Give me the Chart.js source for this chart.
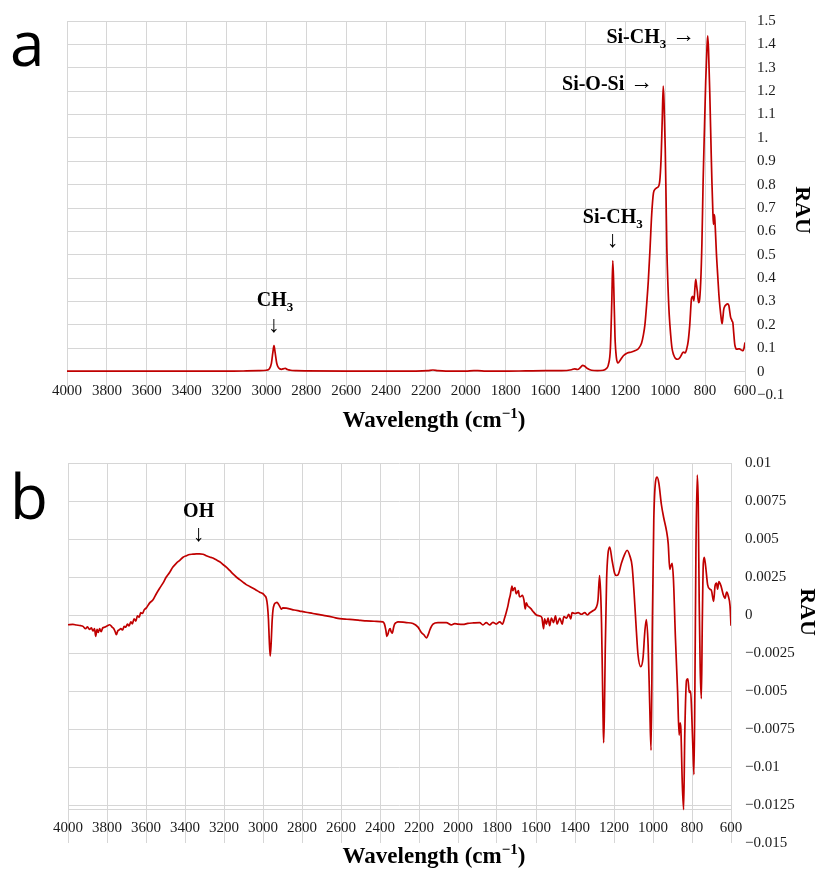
<!DOCTYPE html>
<html>
<head>
<meta charset="utf-8">
<script src="https://cdn.jsdelivr.net/npm/chart.js@4.4.0/dist/chart.umd.min.js"></script>
<style>
  html, body { margin: 0; padding: 0; background: #ffffff; }
  #wrap { position: relative; width: 818px; height: 873px; overflow: hidden; background: #ffffff; }
  #wrap canvas { position: absolute; left: 0; }
  #chartA { top: 0; }
  #chartB { top: 440px; }
</style>
</head>
<body>
<div id="wrap">
  <canvas id="chartA" width="818" height="440"></canvas>
  <canvas id="chartB" width="818" height="433"></canvas>
</div>
<script>
// ---------- Spectrum a: absorbance (RAU) against wavenumber ----------
const aWavenumber = [
  4000, 3900, 3800, 3600, 3400, 3200, 3100, 3040, 3000, 2985, 2975, 2968, 2962, 2956, 2948, 2938,
  2925, 2912, 2905, 2895, 2880, 2850, 2800, 2600, 2400, 2250, 2190, 2165, 2140, 2100, 2000, 1960,
  1940, 1900, 1800, 1700, 1600, 1520, 1470, 1455, 1440, 1425, 1415, 1405, 1390, 1370, 1340, 1310,
  1295, 1285, 1275, 1268, 1263, 1258, 1252, 1245, 1237, 1225, 1210, 1190, 1169, 1150, 1136, 1119,
  1110, 1102, 1093, 1085, 1076, 1068, 1059, 1050, 1042, 1032, 1026, 1020, 1015, 1010, 1006, 1000,
  996, 992, 986, 980, 973, 966, 958, 949, 936, 926, 919, 912, 907, 900, 893, 885,
  877, 868, 862, 856, 851, 847, 843, 839, 833, 829, 822, 816, 810, 803, 797, 791,
  787, 783, 776, 770, 766, 761, 758, 755, 752, 749, 743, 737, 731, 725, 719, 715,
  711, 707, 701, 695, 688, 681, 677, 672, 667, 664, 661, 657, 651, 645, 641, 634,
  627, 621, 615, 610, 605, 600
];
const aRau = [
  0.002, 0.002, 0.002, 0.002, 0.002, 0.002, 0.003, 0.004, 0.006, 0.012, 0.035, 0.080, 0.111, 0.080, 0.035, 0.015,
  0.010, 0.013, 0.014, 0.009, 0.006, 0.004, 0.003, 0.002, 0.002, 0.002, 0.004, 0.007, 0.004, 0.002, 0.002, 0.004,
  0.004, 0.002, 0.002, 0.003, 0.004, 0.004, 0.008, 0.012, 0.009, 0.018, 0.027, 0.024, 0.013, 0.006, 0.004, 0.006,
  0.013, 0.030, 0.100, 0.300, 0.474, 0.360, 0.150, 0.060, 0.037, 0.050, 0.068, 0.080, 0.084, 0.090, 0.097, 0.121,
  0.155, 0.200, 0.290, 0.386, 0.530, 0.671, 0.765, 0.781, 0.787, 0.795, 0.830, 0.930, 1.080, 1.222, 1.150, 0.957,
  0.750, 0.529, 0.360, 0.243, 0.160, 0.100, 0.072, 0.057, 0.053, 0.060, 0.071, 0.082, 0.083, 0.080, 0.095, 0.129,
  0.200, 0.314, 0.322, 0.303, 0.360, 0.395, 0.370, 0.343, 0.295, 0.300, 0.386, 0.550, 0.814, 1.050, 1.243, 1.380,
  1.436, 1.380, 1.171, 0.950, 0.814, 0.680, 0.630, 0.672, 0.660, 0.614, 0.500, 0.414, 0.330, 0.271, 0.225, 0.205,
  0.230, 0.264, 0.280, 0.286, 0.290, 0.283, 0.260, 0.232, 0.222, 0.215, 0.210, 0.170, 0.114, 0.098, 0.096, 0.097,
  0.097, 0.094, 0.091, 0.090, 0.100, 0.125
];

// ---------- Spectrum b: difference spectrum (RAU) against wavenumber ----------
const bWavenumber = [
  4000, 3975, 3957, 3935, 3923, 3910, 3900, 3890, 3880, 3872, 3864, 3858, 3851, 3845, 3838, 3830,
  3822, 3812, 3800, 3786, 3774, 3765, 3758, 3752, 3745, 3737, 3729, 3720, 3712, 3704, 3695, 3687,
  3678, 3670, 3661, 3652, 3644, 3635, 3627, 3618, 3610, 3598, 3581, 3564, 3547, 3530, 3513, 3496,
  3479, 3462, 3445, 3427, 3410, 3393, 3376, 3359, 3342, 3325, 3308, 3291, 3274, 3257, 3240, 3222,
  3205, 3188, 3171, 3154, 3137, 3120, 3103, 3086, 3068, 3051, 3034, 3017, 3000, 2992, 2983, 2977,
  2972, 2968, 2963, 2958, 2954, 2949, 2942, 2935, 2928, 2920, 2912, 2906, 2898, 2880, 2863, 2840,
  2812, 2780, 2744, 2710, 2675, 2640, 2607, 2570, 2539, 2500, 2470, 2430, 2400, 2385, 2377, 2370,
  2365, 2359, 2354, 2348, 2343, 2337, 2330, 2325, 2317, 2308, 2282, 2265, 2231, 2205, 2188, 2175,
  2162, 2150, 2145, 2128, 2103, 2080, 2060, 2034, 2017, 2000, 1974, 1950, 1920, 1889, 1872, 1855,
  1838, 1821, 1804, 1786, 1772, 1761, 1752, 1744, 1738, 1732, 1723, 1719, 1715, 1708, 1702, 1698,
  1690, 1685, 1680, 1670, 1662, 1655, 1650, 1642, 1633, 1625, 1616, 1598, 1581, 1570, 1561, 1556,
  1547, 1538, 1530, 1521, 1510, 1500, 1492, 1478, 1466, 1457, 1443, 1432, 1422, 1415, 1400, 1384,
  1367, 1350, 1337, 1325, 1308, 1291, 1282, 1274, 1268, 1264, 1260, 1256, 1253, 1249, 1245, 1238,
  1231, 1222, 1210, 1197, 1188, 1179, 1162, 1145, 1133, 1119, 1107, 1097, 1085, 1077, 1063, 1051,
  1042, 1034, 1025, 1017, 1010, 1003, 996, 987, 979, 970, 957, 945, 931, 922, 914, 909,
  902, 895, 885, 874, 866, 861, 857, 850, 843, 837, 828, 821, 814, 807, 802, 795,
  790, 785, 780, 773, 768, 763, 758, 752, 747, 742, 737, 730, 720, 708, 700, 689,
  682, 674, 669, 662, 651, 640, 631, 622, 614, 605, 600
];
const bRau = [
  -0.00064, -0.00062, -0.00066, -0.00070, -0.00075, -0.00090, -0.00078, -0.00095, -0.00085, -0.00105, -0.00090, -0.00140, -0.00095, -0.00115, -0.00090, -0.00110,
  -0.00085, -0.00080, -0.00072, -0.00064, -0.00080, -0.00090, -0.00110, -0.00130, -0.00105, -0.00098, -0.00090, -0.00098, -0.00075, -0.00080, -0.00060, -0.00072,
  -0.00045, -0.00058, -0.00025, -0.00040, -0.00005, -0.00015, 0.00015, 0.00010, 0.00032, 0.00047, 0.00080, 0.00100, 0.00140, 0.00176, 0.00210, 0.00250,
  0.00280, 0.00315, 0.00340, 0.00360, 0.00380, 0.00390, 0.00398, 0.00400, 0.00402, 0.00402, 0.00400, 0.00390, 0.00382, 0.00375, 0.00363, 0.00350,
  0.00332, 0.00315, 0.00293, 0.00270, 0.00250, 0.00233, 0.00216, 0.00200, 0.00188, 0.00176, 0.00163, 0.00150, 0.00140, 0.00128, 0.00110, 0.00060,
  -0.00030, -0.00160, -0.00270, -0.00180, -0.00060, 0.00030, 0.00070, 0.00080, 0.00083, 0.00070, 0.00052, 0.00038, 0.00047, 0.00045, 0.00040, 0.00033,
  0.00026, 0.00018, 0.00010, 0.00002, -0.00006, -0.00015, -0.00024, -0.00028, -0.00030, -0.00035, -0.00039, -0.00041, -0.00043, -0.00045, -0.00060, -0.00100,
  -0.00140, -0.00125, -0.00100, -0.00090, -0.00110, -0.00120, -0.00080, -0.00060, -0.00050, -0.00045, -0.00047, -0.00050, -0.00056, -0.00080, -0.00115, -0.00130,
  -0.00150, -0.00120, -0.00100, -0.00060, -0.00050, -0.00050, -0.00050, -0.00065, -0.00057, -0.00060, -0.00062, -0.00055, -0.00052, -0.00050, -0.00065, -0.00050,
  -0.00065, -0.00048, -0.00060, -0.00045, -0.00060, -0.00020, 0.00020, 0.00060, 0.00100, 0.00130, 0.00190, 0.00160, 0.00170, 0.00180, 0.00140, 0.00145,
  0.00160, 0.00120, 0.00120, 0.00130, 0.00100, 0.00040, 0.00080, 0.00060, 0.00050, 0.00040, 0.00025, 0.00000, -0.00006, -0.00017, -0.00090, -0.00025,
  -0.00060, -0.00020, -0.00070, -0.00020, -0.00050, -0.00005, -0.00060, -0.00020, -0.00060, -0.00010, -0.00020, 0.00005, -0.00025, 0.00015, 0.00010, 0.00015,
  0.00005, 0.00015, 0.00000, 0.00013, 0.00028, 0.00050, 0.00100, 0.00260, 0.00130, -0.00050, -0.00350, -0.00680, -0.00840, -0.00620, -0.00240, 0.00230,
  0.00400, 0.00447, 0.00360, 0.00275, 0.00260, 0.00265, 0.00340, 0.00400, 0.00426, 0.00390, 0.00320, 0.00146, -0.00110, -0.00260, -0.00340, -0.00280,
  -0.00110, -0.00030, -0.00200, -0.00580, -0.00890, -0.00030, 0.00620, 0.00877, 0.00907, 0.00867, 0.00727, 0.00640, 0.00555, 0.00470, 0.00300, 0.00320,
  0.00340, 0.00230, -0.00150, -0.00500, -0.00790, -0.00710, -0.00750, -0.01100, -0.01280, -0.00780, -0.00430, -0.00420, -0.00510, -0.00500, -0.00630, -0.00890,
  -0.01050, -0.00460, 0.00400, 0.00920, 0.00730, 0.00080, -0.00350, -0.00550, -0.00030, 0.00340, 0.00380, 0.00320, 0.00200, 0.00170, 0.00160, 0.00090,
  0.00190, 0.00210, 0.00170, 0.00220, 0.00190, 0.00135, 0.00110, 0.00150, 0.00125, 0.00060, -0.00070
];

// ---------- Axis tick settings ----------
const xTickMin = 600, xTickMax = 4000, xTickStep = 200;
const aTickMin = -0.1, aTickMax = 1.5, aTickStep = 0.1;
const bTickMin = -0.015, bTickMax = 0.01, bTickStep = 0.0025;
const bAxisCross = -0.0128;

const SERIF = '"Liberation Serif", "Times New Roman", serif';
const GRID = '#d6d6d6';
const INK = '#1b1b1b';
const LINE = '#c00000';

function toPoints(xs, ys) { return xs.map((x, i) => ({ x: x, y: ys[i] })); }

function minusSign(s) { return s.replace('-', '\u2212'); }

// Draws a sequence of text runs (different fonts / vertical offsets) on one line.
function drawRuns(ctx, runs, x, y, align) {
  let total = 0;
  runs.forEach(r => { ctx.font = r[1]; total += ctx.measureText(r[0]).width; });
  let cx = align === 'center' ? x - total / 2 : (align === 'right' ? x - total : x);
  ctx.textAlign = 'left';
  ctx.textBaseline = 'alphabetic';
  runs.forEach(r => {
    ctx.font = r[1];
    ctx.fillText(r[0], cx, y + (r[2] || 0));
    cx += ctx.measureText(r[0]).width;
  });
}

const B20 = 'bold 20px ' + SERIF;
const B13 = 'bold 13px ' + SERIF;
const ARROW = '23px ' + SERIF;
const TITLE = 'bold 23px ' + SERIF;
const TITLE_SUP = 'bold 15px ' + SERIF;

function axisTitles(ctx, titleY, rauX, rauY) {
  ctx.fillStyle = '#000';
  drawRuns(ctx, [['Wavelength (cm', TITLE], ['\u22121', TITLE_SUP, -9], [')', TITLE]], 434, titleY, 'center');
  ctx.save();
  ctx.translate(rauX, rauY);
  ctx.rotate(Math.PI / 2);
  ctx.font = 'bold 22px ' + SERIF;
  ctx.textAlign = 'center';
  ctx.textBaseline = 'middle';
  ctx.fillText('RAU', 0, 0);
  ctx.restore();
}

const decorA = {
  id: 'decorA',
  afterDraw(chart) {
    const ctx = chart.ctx;
    const xs = chart.scales.x;
    ctx.save();
    ctx.fillStyle = '#000';
    ctx.font = '62px "Open Sans", "Noto Sans", sans-serif';
    ctx.textAlign = 'left';
    ctx.textBaseline = 'alphabetic';
    ctx.fillText('a', 10, 66);

    // band labels
    const xCH3 = xs.getPixelForValue(2962);
    drawRuns(ctx, [['CH', B20], ['3', B13, 5]], xCH3 + 1, 306, 'center');
    ctx.font = ARROW; ctx.textAlign = 'center';
    ctx.fillText('\u2193', xCH3, 332);

    const xSiCH3 = xs.getPixelForValue(1263);
    drawRuns(ctx, [['Si-CH', B20], ['3', B13, 5]], xSiCH3, 223, 'center');
    ctx.font = ARROW; ctx.textAlign = 'center';
    ctx.fillText('\u2193', xSiCH3, 247);

    drawRuns(ctx, [['Si-O-Si', B20], [' \u2192', ARROW, -1]], 653, 90, 'right');
    drawRuns(ctx, [['Si-CH', B20], ['3', B13, 5], [' \u2192', ARROW, -1]], 695, 43, 'right');

    axisTitles(ctx, 427, 802, 210);
    ctx.restore();
  }
};

const decorB = {
  id: 'decorB',
  afterDraw(chart) {
    const ctx = chart.ctx;
    const xs = chart.scales.x;
    ctx.save();
    ctx.fillStyle = '#000';
    ctx.font = '62px "Open Sans", "Noto Sans", sans-serif';
    ctx.textAlign = 'left';
    ctx.textBaseline = 'alphabetic';
    ctx.fillText('b', 10, 79);

    const xOH = xs.getPixelForValue(3330);
    drawRuns(ctx, [['OH', B20]], xOH, 77, 'center');
    ctx.font = ARROW; ctx.textAlign = 'center';
    ctx.fillText('\u2193', xOH, 101);

    axisTitles(ctx, 423, 807, 172);
    ctx.restore();
  }
};

function xAxis(crossValue) {
  return {
    type: 'linear',
    reverse: true,
    min: xTickMin,
    max: xTickMax,
    position: { y: crossValue },
    grid: { color: GRID, lineWidth: 1, drawTicks: false, tickLength: 0 },
    border: { display: true, color: GRID, width: 1 },
    ticks: {
      stepSize: xTickStep,
      autoSkip: false,
      maxRotation: 0,
      padding: 10,
      color: INK,
      font: { family: SERIF, size: 15 },
      callback: v => String(v)
    }
  };
}

function yAxis(min, max, step, width, pad, fmt) {
  return {
    type: 'linear',
    position: 'right',
    min: min,
    max: max,
    afterFit: s => { s.width = width; },
    grid: {
      drawTicks: false,
      tickLength: 0,
      color: c => (c.tick && c.tick.value < min + step * 0.01) ? 'rgba(0,0,0,0)' : GRID
    },
    border: { display: false },
    ticks: {
      stepSize: step,
      padding: pad,
      color: INK,
      font: { family: SERIF, size: 15 },
      callback: fmt
    }
  };
}

const common = {
  responsive: false,
  animation: false,
  events: [],
  plugins: { legend: { display: false }, title: { display: false }, tooltip: { enabled: false } }
};

new Chart(document.getElementById('chartA'), {
  type: 'line',
  data: {
    datasets: [{
      data: toPoints(aWavenumber, aRau),
      borderColor: LINE,
      borderWidth: 1.7,
      pointRadius: 0,
      cubicInterpolationMode: 'monotone',
      fill: false
    }]
  },
  options: Object.assign({}, common, {
    layout: { padding: { left: 67, top: 20, right: 0, bottom: 45 } },
    scales: {
      x: xAxis(0),
      y: yAxis(aTickMin, aTickMax, aTickStep, 73, 12, v => {
        const r = Math.round(v * 10) / 10;
        if (r === 0) return '0';
        if (r === 1) return '1.';
        return minusSign(r.toFixed(1));
      })
    }
  }),
  plugins: [decorA]
});

new Chart(document.getElementById('chartB'), {
  type: 'line',
  data: {
    datasets: [{
      data: toPoints(bWavenumber, bRau),
      borderColor: LINE,
      borderWidth: 1.7,
      pointRadius: 0,
      cubicInterpolationMode: 'monotone',
      fill: false
    }]
  },
  options: Object.assign({}, common, {
    layout: { padding: { left: 68, top: 18, right: 0, bottom: 30 } },
    scales: {
      x: xAxis(bAxisCross),
      y: yAxis(bTickMin, bTickMax, bTickStep, 87, 14, v => {
        const r = Math.round(v * 10000) / 10000;
        if (r === 0) return '0';
        return minusSign(String(r));
      })
    }
  }),
  plugins: [decorB]
});
</script>
</body>
</html>
